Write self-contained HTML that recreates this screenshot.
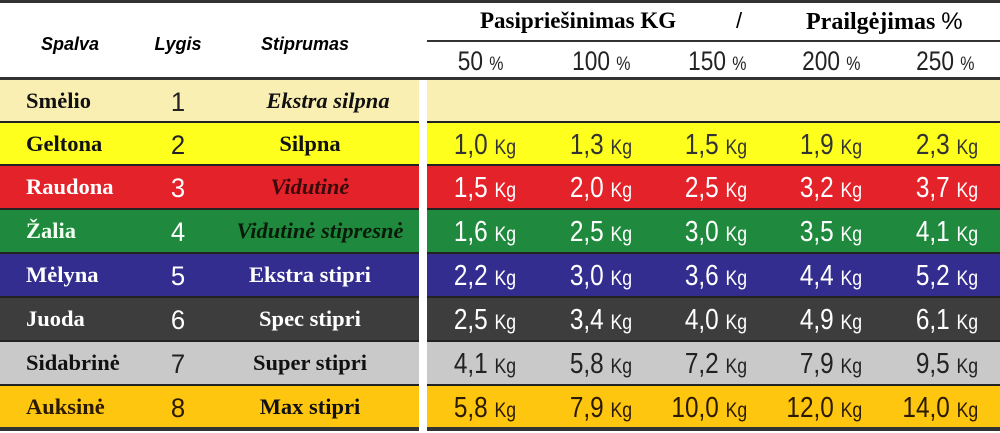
<!DOCTYPE html>
<html><head><meta charset="utf-8"><style>
body{margin:0;width:1000px;height:431px;overflow:hidden;background:#fff;position:relative;font-family:"Liberation Sans",sans-serif}
.a{position:absolute}
.row{position:absolute;left:0;width:1000px;height:44px}
.l{position:absolute;left:0;width:419px;height:100%;border-bottom:2px solid #222;box-sizing:border-box}
.r{position:absolute;left:427px;width:573px;height:100%;border-bottom:2px solid #222;box-sizing:border-box}
.name{position:absolute;left:26px;top:0;line-height:42px;font-family:"Liberation Serif",serif;font-weight:bold;font-size:22.5px}
.lvl{position:absolute;left:150px;width:56px;text-align:center;top:0;line-height:44px;font-size:27px;transform:scaleX(.95)}
.str{position:absolute;left:200px;width:220px;text-align:center;top:0;line-height:42px;font-family:"Liberation Serif",serif;font-weight:bold;font-size:22.5px}
.v{position:absolute;top:0;line-height:44px;font-size:29px;transform:scaleX(.84);transform-origin:right center;text-align:right;white-space:nowrap}
.v small{font-size:21px}
.h{position:absolute;font-style:italic;font-weight:bold;font-size:18px;top:34px;text-align:center}
.p{position:absolute;top:44px;line-height:34px;font-size:27px;transform:scaleX(.84);transform-origin:right center;text-align:right;color:#222;white-space:nowrap}
.p small{font-size:19px}
</style></head><body>
<div class="a" style="left:0;top:0;width:1000px;height:3px;background:#333"></div>
<div class="h" style="left:25px;width:90px">Spalva</div>
<div class="h" style="left:143px;width:70px">Lygis</div>
<div class="h" style="left:240px;width:130px">Stiprumas</div>
<div class="a" style="left:480px;top:8px;font-family:'Liberation Serif',serif;font-weight:bold;font-size:23px">Pasipriešinimas KG</div>
<div class="a" style="left:736px;top:8px;font-size:22px">/</div>
<div class="a" style="left:806px;top:8px;font-family:'Liberation Serif',serif;font-weight:bold;font-size:24px">Prailgėjimas <span style="font-family:'Liberation Sans';font-weight:normal">%</span></div>
<div class="a" style="left:427px;top:40px;width:573px;height:2px;background:#333"></div>
<div class="p" style="right:497px">50 <small>%</small></div>
<div class="p" style="right:370px">100 <small>%</small></div>
<div class="p" style="right:254px">150 <small>%</small></div>
<div class="p" style="right:140px">200 <small>%</small></div>
<div class="p" style="right:26px">250 <small>%</small></div>
<div class="a" style="left:0;top:77px;width:1000px;height:3px;background:#333"></div>

<div class="row" style="top:80px;height:43px"><div class="l" style="background:#f9efb3"></div><div class="r" style="background:#f9efb3"></div>
<div class="name" style="color:#111">Smėlio</div><div class="lvl" style="color:#222">1</div><div class="str" style="color:#111;font-style:italic;left:218px">Ekstra silpna</div></div>

<div class="row" style="top:123px;height:43px"><div class="l" style="background:#ffff1e"></div><div class="r" style="background:#ffff1e"></div>
<div class="name" style="color:#111">Geltona</div><div class="lvl" style="color:#222">2</div><div class="str" style="color:#111">Silpna</div>
<div class="v" style="right:484px;color:#333">1,0 <small>Kg</small></div><div class="v" style="right:368px;color:#333">1,3 <small>Kg</small></div><div class="v" style="right:253px;color:#333">1,5 <small>Kg</small></div><div class="v" style="right:138px;color:#333">1,9 <small>Kg</small></div><div class="v" style="right:22px;color:#333">2,3 <small>Kg</small></div></div>

<div class="row" style="top:166px;height:44px"><div class="l" style="background:#e4222a"></div><div class="r" style="background:#e4222a"></div>
<div class="name" style="color:#fff">Raudona</div><div class="lvl" style="color:#fff">3</div><div class="str" style="color:#3a0a0a;font-style:italic">Vidutinė</div>
<div class="v" style="right:484px;color:#fff">1,5 <small>Kg</small></div><div class="v" style="right:368px;color:#fff">2,0 <small>Kg</small></div><div class="v" style="right:253px;color:#fff">2,5 <small>Kg</small></div><div class="v" style="right:138px;color:#fff">3,2 <small>Kg</small></div><div class="v" style="right:22px;color:#fff">3,7 <small>Kg</small></div></div>

<div class="row" style="top:210px;height:44px"><div class="l" style="background:#1f8a3d"></div><div class="r" style="background:#1f8a3d"></div>
<div class="name" style="color:#f0fff0">Žalia</div><div class="lvl" style="color:#fff">4</div><div class="str" style="color:#0a1a0a;font-style:italic;left:210px">Vidutinė stipresnė</div>
<div class="v" style="right:484px;color:#fff">1,6 <small>Kg</small></div><div class="v" style="right:368px;color:#fff">2,5 <small>Kg</small></div><div class="v" style="right:253px;color:#fff">3,0 <small>Kg</small></div><div class="v" style="right:138px;color:#fff">3,5 <small>Kg</small></div><div class="v" style="right:22px;color:#fff">4,1 <small>Kg</small></div></div>

<div class="row" style="top:254px;height:44px"><div class="l" style="background:#332d8f"></div><div class="r" style="background:#332d8f"></div>
<div class="name" style="color:#fff">Mėlyna</div><div class="lvl" style="color:#fff">5</div><div class="str" style="color:#fff">Ekstra stipri</div>
<div class="v" style="right:484px;color:#fff">2,2 <small>Kg</small></div><div class="v" style="right:368px;color:#fff">3,0 <small>Kg</small></div><div class="v" style="right:253px;color:#fff">3,6 <small>Kg</small></div><div class="v" style="right:138px;color:#fff">4,4 <small>Kg</small></div><div class="v" style="right:22px;color:#fff">5,2 <small>Kg</small></div></div>

<div class="row" style="top:298px;height:44px"><div class="l" style="background:#3d3d3d"></div><div class="r" style="background:#3d3d3d"></div>
<div class="name" style="color:#fff">Juoda</div><div class="lvl" style="color:#fff">6</div><div class="str" style="color:#fff">Spec stipri</div>
<div class="v" style="right:484px;color:#fff">2,5 <small>Kg</small></div><div class="v" style="right:368px;color:#fff">3,4 <small>Kg</small></div><div class="v" style="right:253px;color:#fff">4,0 <small>Kg</small></div><div class="v" style="right:138px;color:#fff">4,9 <small>Kg</small></div><div class="v" style="right:22px;color:#fff">6,1 <small>Kg</small></div></div>

<div class="row" style="top:342px;height:44px"><div class="l" style="background:#c9c9c9"></div><div class="r" style="background:#c9c9c9"></div>
<div class="name" style="color:#111">Sidabrinė</div><div class="lvl" style="color:#222">7</div><div class="str" style="color:#111">Super stipri</div>
<div class="v" style="right:484px;color:#222">4,1 <small>Kg</small></div><div class="v" style="right:368px;color:#222">5,8 <small>Kg</small></div><div class="v" style="right:253px;color:#222">7,2 <small>Kg</small></div><div class="v" style="right:138px;color:#222">7,9 <small>Kg</small></div><div class="v" style="right:22px;color:#222">9,5 <small>Kg</small></div></div>

<div class="row" style="top:386px;height:45px"><div class="l" style="background:#ffc60f;border-bottom:4px solid #333"></div><div class="r" style="background:#ffc60f;border-bottom:4px solid #333"></div>
<div class="name" style="color:#2a1a00">Auksinė</div><div class="lvl" style="color:#2a1a00">8</div><div class="str" style="color:#111">Max stipri</div>
<div class="v" style="right:484px;color:#2a1a00">5,8 <small>Kg</small></div><div class="v" style="right:368px;color:#2a1a00">7,9 <small>Kg</small></div><div class="v" style="right:253px;color:#2a1a00">10,0 <small>Kg</small></div><div class="v" style="right:138px;color:#2a1a00">12,0 <small>Kg</small></div><div class="v" style="right:22px;color:#2a1a00">14,0 <small>Kg</small></div></div>
</body></html>
